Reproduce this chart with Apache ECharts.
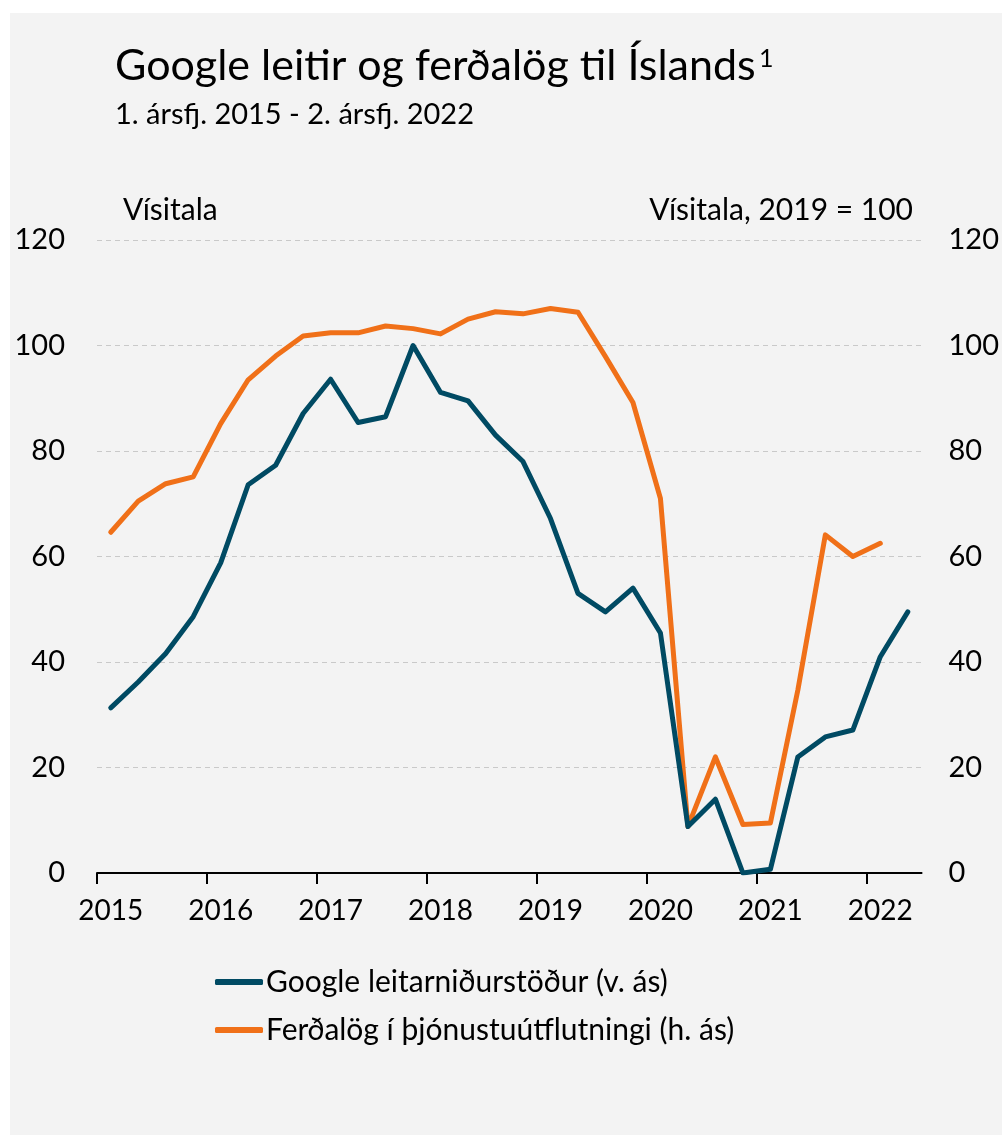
<!DOCTYPE html>
<html>
<head>
<meta charset="utf-8">
<script src="https://cdn.jsdelivr.net/npm/echarts@6/dist/echarts.min.js"></script>
<style>
  html, body { margin: 0; padding: 0; background: #ffffff; }
  #chart { position: absolute; left: 0; top: 0; width: 1002px; height: 1138px; }
</style>
</head>
<body>
<div id="chart"></div>
<script>
// quarters 2015Q1 - 2022Q2
var years = ['2015', '2016', '2017', '2018', '2019', '2020', '2021', '2022'];
var quarters = [];
for (var y = 0; y < years.length; y++) {
  for (var q = 1; q <= 4; q++) {
    if (years[y] === '2022' && q > 2) break;
    quarters.push(years[y] + 'Q' + q);
  }
}

// Google leitarniðurstöður (left axis)
var google = [31.3, 36.2, 41.6, 48.6, 58.8, 73.6, 77.3, 87.1, 93.6, 85.4, 86.5, 100.0,
              91.1, 89.5, 83.0, 78.0, 67.2, 53.0, 49.5, 54.0, 45.5, 8.8, 14.0, 0.0,
              0.7, 22.0, 25.8, 27.1, 41.0, 49.5];
// Ferðalög í þjónustuútflutningi (right axis), 2019 = 100
var travel = [64.6, 70.5, 73.8, 75.1, 85.2, 93.5, 98.0, 101.8, 102.4, 102.4, 103.7, 103.2,
              102.2, 105.0, 106.4, 106.0, 107.0, 106.3, 97.9, 89.2, 71.0, 8.8, 22.0, 9.2,
              9.5, 34.7, 64.1, 60.0, 62.5];

var seriesNames = ['Google leitarniðurstöður (v. ás)', 'Ferðalög í þjónustuútflutningi (h. ás)'];
var colors = ['#004a63', '#f07018'];

// quarter boundaries, used only for the year tick marks
var bounds = [];
for (var b = 0; b <= quarters.length; b++) bounds.push(b);

var font = 'Lato';
var myChart = echarts.init(document.getElementById('chart'));
var option = {
  backgroundColor: '#ffffff',
  textStyle: { fontFamily: font, color: '#000' },
  graphic: [
    { type: 'rect', left: 10, top: 13, shape: { width: 992, height: 1122 }, style: { fill: '#f3f3f3' }, z: -10 },
    { type: 'text', left: 115, top: 45, style: { text: 'Google leitir og ferðalög til Íslands', font: '43px Lato', fill: '#000' } },
    { type: 'text', left: 759, top: 46, style: { text: '1', font: '25px Lato', fill: '#000' } },
    { type: 'text', left: 115, top: 100, style: { text: '1. ársfj. 2015 - 2. ársfj. 2022', font: '29px Lato', fill: '#000' } },
    { type: 'text', left: 123, top: 195, style: { text: 'Vísitala', font: '30px Lato', fill: '#000' } },
    { type: 'text', right: 89, top: 195, style: { text: 'Vísitala, 2019 = 100', font: '30px Lato', fill: '#000' } }
  ],
  color: colors,
  legend: {
    orient: 'vertical',
    left: 215,
    top: 967,
    padding: 0,
    itemWidth: 48,
    itemHeight: 6,
    itemGap: 18,
    icon: 'roundRect',
    textStyle: { fontFamily: font, fontSize: 30, color: '#000', padding: [0, 0, 0, -2] },
    data: seriesNames
  },
  grid: { left: 97, right: 79, top: 240, bottom: 265 },
  xAxis: [
    {
      type: 'category',
      data: quarters,
      boundaryGap: true,
      axisLine: { lineStyle: { color: '#000', width: 2 } },
      axisTick: { show: false },
      axisLabel: {
        interval: 3,
        margin: 24,
        fontSize: 28,
        color: '#000',
        fontFamily: font,
        formatter: function (v) { return v.slice(0, 4); }
      },
      splitLine: { show: false }
    },
    {
      type: 'category',
      data: bounds,
      boundaryGap: false,
      position: 'bottom',
      axisLine: { show: false },
      axisLabel: { show: false },
      axisTick: {
        show: true,
        length: 11,
        interval: function (i) { return i % 4 === 0 && i < quarters.length; },
        lineStyle: { color: '#000', width: 2 }
      },
      splitLine: { show: false }
    }
  ],
  yAxis: [
    {
      type: 'value',
      min: 0, max: 120, interval: 20,
      axisLine: { show: false },
      axisTick: { show: false },
      axisLabel: { margin: 32, fontSize: 29, color: '#000', fontFamily: font },
      splitLine: { lineStyle: { color: '#c9c9c9', type: [5, 4], width: 1 } }
    },
    {
      type: 'value',
      position: 'right',
      min: 0, max: 120, interval: 20,
      axisLine: { show: false },
      axisTick: { show: false },
      axisLabel: { margin: 27, fontSize: 29, color: '#000', fontFamily: font },
      splitLine: { show: false }
    }
  ],
  series: [
    {
      name: seriesNames[0],
      type: 'line',
      yAxisIndex: 0,
      data: google,
      symbol: 'none',
      lineStyle: { width: 5, color: colors[0], cap: 'round', join: 'round' },
      z: 3
    },
    {
      name: seriesNames[1],
      type: 'line',
      yAxisIndex: 1,
      data: travel,
      symbol: 'none',
      lineStyle: { width: 5, color: colors[1], cap: 'round', join: 'round' },
      z: 2
    }
  ]
};
myChart.setOption(option);
</script>
</body>
</html>
